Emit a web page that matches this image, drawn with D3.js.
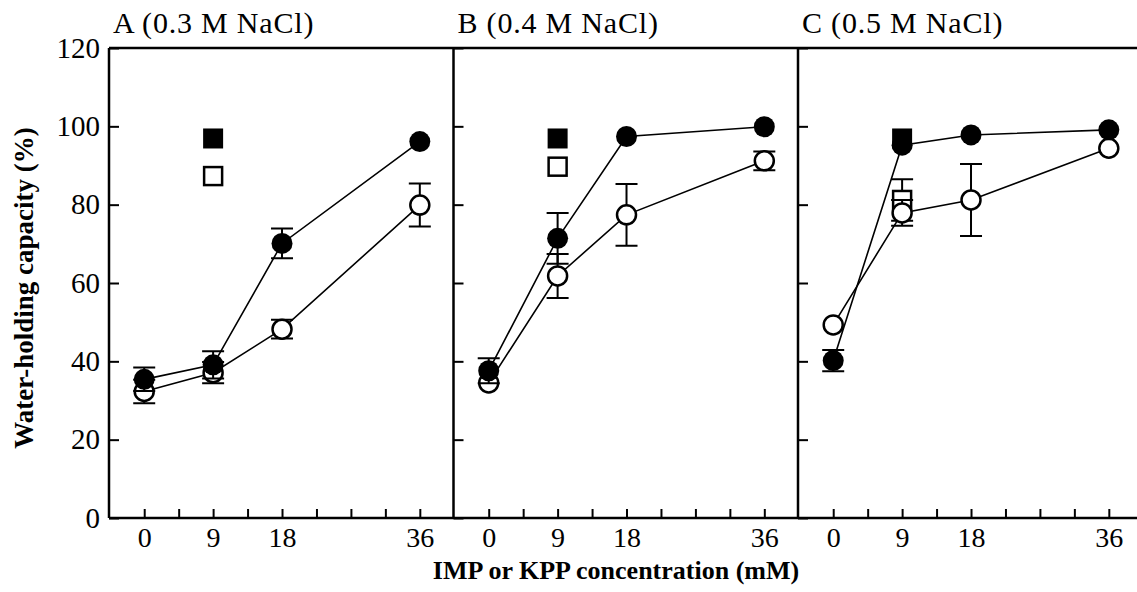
<!DOCTYPE html>
<html>
<head>
<meta charset="utf-8">
<script src="https://cdn.jsdelivr.net/npm/d3@7"></script>
<style>
  body { margin: 0; background: #fff; }
  svg { display: block; }
  text { font-family: "Liberation Serif", "Times New Roman", serif; fill: #000; }
</style>
</head>
<body>
<svg width="1137" height="592"></svg>
<script>
// panel titles and x values (mM)
const panelTitles = ["A (0.3 M NaCl)", "B (0.4 M NaCl)", "C (0.5 M NaCl)"];
const concentrations = [0, 9, 18, 36];
const xTickValues = [0, 4.5, 9, 13.5, 18, 22.5, 27, 31.5, 36];
const xTickLabels = [0, 9, 18, 36];
const yTickValues = [0, 20, 40, 60, 80, 100, 120];

// filled circles, one row per panel
const filledCircle = [
  [35.4, 39.1, 70.1, 96.1],
  [37.6, 71.4, 97.4, 99.9],
  [40.2, 95.2, 97.8, 99.1]
];
const filledCircleErr = [
  [3.0, 3.5, 3.8, 0],
  [3.2, 6.5, 0, 0],
  [2.7, 0, 0, 0]
];
// open circles
const openCircle = [
  [32.3, 37.1, 48.2, 79.9],
  [34.5, 61.8, 77.4, 91.2],
  [49.3, 77.9, 81.2, 94.4]
];
const openCircleErr = [
  [3.0, 2.7, 2.4, 5.5],
  [0, 5.6, 7.9, 2.4],
  [0, 3.3, 9.2, 0]
];
// single squares at 9 mM
const squareX = 9;
const filledSquare = [96.9, 96.9, 96.9];
const openSquare = [87.3, 89.7, 81.2];
const openSquareErr = [0, 0, 5.3];

const svg = d3.select("svg");
const plotTop = 48, plotBottom = 518;
const panelLeft = 109, panelWidth = 344.5;
const y = d3.scaleLinear([0, 120], [plotBottom, plotTop]);

const r = 10.5, sq = 20, capW = 11;

// frame lines
svg.append("line").attr("x1", panelLeft).attr("x2", 1137).attr("y1", plotTop).attr("y2", plotTop)
  .attr("stroke", "#000").attr("stroke-width", 2.5);

panelTitles.forEach((title, p) => {
  const left = panelLeft + p * panelWidth;
  const x = d3.scaleLinear([-4.6, 40.4], [left, left + panelWidth]);
  const g = svg.append("g");

  // x axis ticks (pointing up)
  const xAxis = g.append("g").attr("transform", `translate(0,${plotBottom})`)
    .call(d3.axisBottom(x).tickValues(xTickValues).tickSize(-9).tickPadding(9)
      .tickFormat(d => xTickLabels.includes(d) ? d : ""));
  xAxis.select(".domain").remove();
  xAxis.selectAll(".tick line").attr("stroke-width", 2);
  xAxis.selectAll("text").attr("font-size", 28).attr("font-family", "Liberation Serif");

  // y axis ticks (pointing right)
  const yAxis = g.append("g").attr("transform", `translate(${left},0)`)
    .call(d3.axisLeft(y).tickValues(yTickValues).tickSize(-10).tickPadding(9)
      .tickFormat(d => p === 0 ? d : ""));
  yAxis.select(".domain").remove();
  yAxis.selectAll(".tick line").attr("stroke-width", 2);
  yAxis.selectAll("text").attr("font-size", 29).attr("font-family", "Liberation Serif");

  g.append("line").attr("x1", left).attr("x2", left).attr("y1", plotTop).attr("y2", plotBottom)
    .attr("stroke", "#000").attr("stroke-width", 2.5);

  g.append("text").attr("x", left + 4).attr("y", 33)
    .attr("font-size", 30).attr("letter-spacing", 0.8).text(title);

  // squares at 9 mM
  const sx = x(squareX);
  if (openSquareErr[p] > 0) {
    const e = openSquareErr[p];
    g.append("path")
      .attr("d", `M${sx},${y(openSquare[p] - e)}V${y(openSquare[p] + e)}` +
        `M${sx - capW},${y(openSquare[p] + e)}H${sx + capW}M${sx - capW},${y(openSquare[p] - e)}H${sx + capW}`)
      .attr("stroke", "#000").attr("stroke-width", 2).attr("fill", "none");
  }
  g.append("rect").attr("x", sx - sq / 2 + 1).attr("y", y(openSquare[p]) - sq / 2 + 1)
    .attr("width", sq - 2).attr("height", sq - 2)
    .attr("fill", "#fff").attr("stroke", "#000").attr("stroke-width", 2.5);
  g.append("rect").attr("x", sx - sq / 2).attr("y", y(filledSquare[p]) - sq / 2)
    .attr("width", sq).attr("height", sq).attr("fill", "#000");

  const series = [
    {vals: openCircle[p], errs: openCircleErr[p], filled: false},
    {vals: filledCircle[p], errs: filledCircleErr[p], filled: true}
  ];
  series.forEach(s => {
    const pts = concentrations.map((c, i) => ({c, v: s.vals[i], e: s.errs[i]}));
    g.append("path").datum(pts)
      .attr("fill", "none").attr("stroke", "#000").attr("stroke-width", 1.6)
      .attr("d", d3.line().x(d => x(d.c)).y(d => y(d.v)));
    g.selectAll(null).data(pts.filter(d => d.e > 0)).join("path")
      .attr("d", d => {
        const cx = x(d.c), y1 = y(d.v + d.e), y2 = y(d.v - d.e);
        return `M${cx},${y1}V${y2}M${cx - capW},${y1}H${cx + capW}M${cx - capW},${y2}H${cx + capW}`;
      })
      .attr("stroke", "#000").attr("stroke-width", 2).attr("fill", "none");
    g.selectAll(null).data(pts).join("circle")
      .attr("cx", d => x(d.c)).attr("cy", d => y(d.v))
      .attr("r", s.filled ? r : r - 1)
      .attr("fill", s.filled ? "#000" : "#fff")
      .attr("stroke", "#000").attr("stroke-width", s.filled ? 0 : 2.5);
  });
});

// bottom axis line
svg.append("line").attr("x1", panelLeft).attr("x2", 1137).attr("y1", plotBottom).attr("y2", plotBottom)
  .attr("stroke", "#000").attr("stroke-width", 2.5);

// axis titles
svg.append("text")
  .attr("transform", `translate(33,${(plotTop + plotBottom) / 2 + 5}) rotate(-90)`)
  .attr("text-anchor", "middle").attr("font-weight", "bold").attr("font-size", 27)
  .text("Water-holding capacity (%)");

svg.append("text")
  .attr("x", 616).attr("y", 579)
  .attr("text-anchor", "middle").attr("font-weight", "bold").attr("font-size", 26)
  .text("IMP or KPP concentration (mM)");
</script>
</body>
</html>
